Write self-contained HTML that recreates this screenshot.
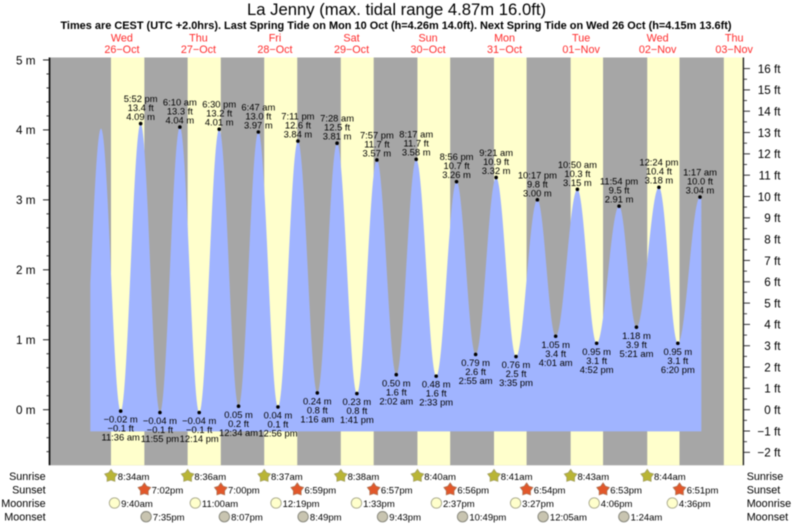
<!DOCTYPE html>
<html lang="en">
<head>
<meta charset="utf-8">
<title>La Jenny tide chart</title>
<style>
html,body{margin:0;padding:0;background:#fff;width:793px;height:525px;overflow:hidden}
svg{display:block;font-family:"Liberation Sans",sans-serif;filter:blur(0.4px)}
text{fill:#000}
</style>
</head>
<body>
<svg id="chart" xmlns="http://www.w3.org/2000/svg" width="793" height="525" viewBox="0 0 793 525">
  <rect x="0" y="0" width="793" height="525" fill="#fff"/>
  <text x="396.5" y="14.8" font-size="16.67" text-anchor="middle">La Jenny (max. tidal range 4.87m 16.0ft)</text>
  <text x="396" y="29" font-size="10.94" font-weight="bold" text-anchor="middle">Times are CEST (UTC +2.0hrs). Last Spring Tide on Mon 10 Oct (h=4.26m 14.0ft). Next Spring Tide on Wed 26 Oct (h=4.15m 13.6ft)</text>
  <g id="bands"></g>
  <path id="tide" fill="#a0b4ff"></path>
  <g id="axes"></g>
  <g id="dayLabels"></g>
  <g id="tideLabels"></g>
  <g id="almanac"></g>
</svg>
<script>
// ---- data ----
const dayNames = ["Wed","Thu","Fri","Sat","Sun","Mon","Tue","Wed","Thu"];
const dayDates = ["26\u2212Oct","27\u2212Oct","28\u2212Oct","29\u2212Oct","30\u2212Oct","31\u2212Oct","01\u2212Nov","02\u2212Nov","03\u2212Nov"];

const tideDays = [0,0,0,1,1,1,2,2,2,2,3,3,3,3,4,4,4,4,5,5,5,5,6,6,6,6,7,7,7,8];
const tideClocks = ["11:36 am","5:52 pm","11:55 pm","6:10 am","12:14 pm","6:30 pm","12:34 am","6:47 am","12:56 pm","7:11 pm","1:16 am","7:28 am","1:41 pm","7:57 pm","2:02 am","8:17 am","2:33 pm","8:56 pm","2:55 am","9:21 am","3:35 pm","10:17 pm","4:01 am","10:50 am","4:52 pm","11:54 pm","5:21 am","12:24 pm","6:20 pm","1:17 am"];
const tideMeters = [-0.02,4.09,-0.04,4.04,-0.04,4.01,0.05,3.97,0.04,3.84,0.24,3.81,0.23,3.57,0.50,3.58,0.48,3.26,0.79,3.32,0.76,3.00,1.05,3.15,0.95,2.91,1.18,3.18,0.95,3.04];
const tideFeet = [-0.1,13.4,-0.1,13.3,-0.1,13.2,0.2,13.0,0.1,12.6,0.8,12.5,0.8,11.7,1.6,11.7,1.6,10.7,2.6,10.9,2.5,9.8,3.4,10.3,3.1,9.5,3.9,10.4,3.1,10.0];

// unlabelled turning points that shape the curve at its two ends
const leadDays = [-1,0];
const leadClocks = ["11:09 pm","5:26 am"];
const leadMeters = [0.0,4.02];
const tailDays = [8];
const tailClocks = ["7:30 am"];
const tailMeters = [1.0];
const curveStartDay = 0;
const curveStartClock = "1:59 am";
const curveEndDay = 8;
const curveEndClock = "1:47 am";
const floorMeters = -0.31;

const sunriseClocks = ["8:34am","8:36am","8:37am","8:38am","8:40am","8:41am","8:43am","8:44am","8:45am"];
const sunsetClocks = ["7:02pm","7:00pm","6:59pm","6:57pm","6:56pm","6:54pm","6:53pm","6:51pm"];
const moonriseClocks = ["9:40am","11:00am","12:19pm","1:33pm","2:37pm","3:27pm","4:06pm","4:36pm"];
const moonriseDays = [0,1,2,3,4,5,6,7];
const moonsetClocks = ["7:35pm","8:07pm","8:49pm","9:43pm","10:49pm","12:05am","1:24am"];
const moonsetDays = [0,1,2,3,4,6,7];

const meterTicks = [0,1,2,3,4,5];
const meterMinorTicks = [-0.6,-0.4,-0.2,0.2,0.4,0.6,0.8,1.2,1.4,1.6,1.8,2.2,2.4,2.6,2.8,3.2,3.4,3.6,3.8,4.2,4.4,4.6,4.8];
const feetTicks = [-2,-1,0,1,2,3,4,5,6,7,8,9,10,11,12,13,14,15,16];

// ---- axis functions ----
const plotLeft = 50, plotRight = 743, plotTop = 57.5, plotBottom = 465.3;
const dayOrigin = 83.67, dayWidth = 76.53, zeroY = 409.7, pxPerMeter = 69.95;
const svgNS = "http://www.w3.org/2000/svg";
function clockHours(c){
  const m = c.match(/(\d+):(\d+)\s*(am|pm)/);
  return (parseInt(m[1],10) % 12) + parseInt(m[2],10)/60 + (m[3]==="pm" ? 12 : 0);
}
function xAt(day, clock){ return dayOrigin + dayWidth*(day + clockHours(clock)/24); }
function yAt(meters){ return zeroY - pxPerMeter*meters; }
function yFeet(feet){ return yAt(feet*0.3048); }
function make(parent, tag, attrs, content){
  const el = document.createElementNS(svgNS, tag);
  for (const k in attrs) el.setAttribute(k, attrs[k]);
  if (content !== undefined) el.textContent = content;
  parent.appendChild(el);
  return el;
}
function minusText(v, digits){ return (v<0 ? "\u2212" : "") + Math.abs(v).toFixed(digits); }

// ---- day / night bands ----
const bands = document.getElementById("bands");
const nightRect = make(bands,"rect",{x:plotLeft,y:plotTop,width:plotRight-plotLeft,height:plotBottom-plotTop,fill:"#a6a6a6"});


sunriseClocks.forEach(function(rise,i){
  const x0 = xAt(i,rise);
  const x1 = i < sunsetClocks.length ? xAt(i,sunsetClocks[i]) : plotRight;
  const band = make(bands,"rect",{x:x0,y:plotTop,width:x1-x0,height:plotBottom-plotTop,fill:"#ffffcc"});
  
  
});

// ---- tide curve ----
const curveDays = leadDays.concat(tideDays, tailDays);
const curveClocks = leadClocks.concat(tideClocks, tailClocks);
const curveMeters = leadMeters.concat(tideMeters, tailMeters);
const startX = xAt(curveStartDay,curveStartClock), endX = xAt(curveEndDay,curveEndClock);
let pts = [];
for (let i=0;i<curveDays.length-1;i++){
  const xa = xAt(curveDays[i],curveClocks[i]), xb = xAt(curveDays[i+1],curveClocks[i+1]);
  const ma = curveMeters[i], mb = curveMeters[i+1];
  for (let s=0;s<=30;s++){
    const f = s/30, x = xa+(xb-xa)*f;
    if (x<startX || x>endX) continue;
    pts.push([x, yAt(ma+(mb-ma)*(1-Math.cos(Math.PI*f))/2)]);
  }
}
const floorY = yAt(floorMeters);
document.getElementById("tide").setAttribute("d",
  "M"+pts[0][0].toFixed(2)+" "+floorY.toFixed(2)+" "+
  pts.map(function(p){return "L"+p[0].toFixed(2)+" "+p[1].toFixed(2);}).join(" ")+
  " L"+pts[pts.length-1][0].toFixed(2)+" "+floorY.toFixed(2)+"Z");

// ---- axes ----
const axes = document.getElementById("axes");
const leftLine = make(axes,"line",{x1:49.5,x2:49.5,y1:plotTop,y2:plotBottom,stroke:"#000","stroke-width":1.6});


const rightLine = make(axes,"line",{x1:743.4,x2:743.4,y1:plotTop,y2:plotBottom,stroke:"#222","stroke-width":1.4});


meterTicks.forEach(function(v){
  const y = yAt(v);
  const tick = make(axes,"line",{x1:43,x2:49,y1:y,y2:y,stroke:"#222","stroke-width":1});
  
  
  const lab = make(axes,"text",{x:35.5,y:y+4.3,"font-size":11.7,"text-anchor":"end"},v+" m");
  
  
});
meterMinorTicks.forEach(function(v){
  const y = yAt(v);
  const tick = make(axes,"line",{x1:46.5,x2:49,y1:y,y2:y,stroke:"#333","stroke-width":1});
  
  
});
feetTicks.forEach(function(v){
  const y = yFeet(v);
  const tick = make(axes,"line",{x1:744,x2:750,y1:y,y2:y,stroke:"#333","stroke-width":1});
  
  
  const lab = make(axes,"text",{x:780.5,y:y+4.3,"font-size":11.7,"text-anchor":"end"},minusText(v,0)+" ft");
  
  
  if (v<16){
    const ym = yFeet(v+0.5);
    const minor = make(axes,"line",{x1:744,x2:747,y1:ym,y2:ym,stroke:"#444","stroke-width":1});
    
    
  }
});

// ---- day labels ----
const dayLabels = document.getElementById("dayLabels");
dayNames.forEach(function(name,i){
  const x = dayOrigin + dayWidth*(i+0.5);
  const a = make(dayLabels,"text",{x:x,y:41.5,"font-size":10.8,"text-anchor":"middle",style:"fill:#ff2a2a"},name);
  
  
  const b = make(dayLabels,"text",{x:x,y:53.2,"font-size":10.8,"text-anchor":"middle",style:"fill:#ff2a2a"},dayDates[i]);
  
  
});

// ---- tide markers and labels ----
const tideLabels = document.getElementById("tideLabels");
tideDays.forEach(function(day,i){
  const x = xAt(day,tideClocks[i]), y = yAt(tideMeters[i]);
  const neighbour = i>0 ? tideMeters[i-1] : tideMeters[i+1];
  const high = tideMeters[i] > neighbour;
  const dot = make(tideLabels,"circle",{cx:x,cy:y,r:1.8,fill:"#000"});
  
  
  const mText = minusText(tideMeters[i],2)+" m", fText = minusText(tideFeet[i],1)+" ft", tText = tideClocks[i];
  const lines = high ? [[tText,-21.6],[fText,-12.6],[mText,-3.6]] : [[mText,11.6],[fText,20.6],[tText,29.6]];
  lines.forEach(function(l){
    const t = make(tideLabels,"text",{x:x,y:y+l[1],"font-size":9.4,"text-anchor":"middle"},l[0]);
    
    
  });
});

// ---- almanac rows ----
const almanac = document.getElementById("almanac");
const rowNames = ["Sunrise","Sunset","Moonrise","Moonset"];
const rowY = [476,489.5,503,516.7];
rowNames.forEach(function(name,i){
  const l = make(almanac,"text",{x:45.7,y:rowY[i]+3.8,"font-size":10.8,"text-anchor":"end"},name);
  
  
  const r = make(almanac,"text",{x:746.7,y:rowY[i]+3.8,"font-size":10.8},name);
  
  
});
function starPoints(cx,cy,R,r){
  const out = [];
  for (let k=0;k<10;k++){
    const a = -Math.PI/2 + k*Math.PI/5, rad = k%2 ? r : R;
    out.push((cx+rad*Math.cos(a)).toFixed(2)+","+(cy+rad*Math.sin(a)).toFixed(2));
  }
  return out.join(" ");
}
function clockText(x,y,s){
  const t = make(almanac,"text",{x:x,y:y+3.8,"font-size":9.5},s);
  
  
}
sunriseClocks.slice(0,8).forEach(function(c,i){
  const x = xAt(i,c);
  const s = make(almanac,"polygon",{points:starPoints(x,rowY[0],6.6,4),fill:"#b9b535",stroke:"#a3a060","stroke-width":0.8});
  
  
  clockText(x+6.8,rowY[0],c);
});
sunsetClocks.forEach(function(c,i){
  const x = xAt(i,c);
  const s = make(almanac,"polygon",{points:starPoints(x,rowY[1],6.6,4),fill:"#e2572a",stroke:"#b07050","stroke-width":0.8});
  
  
  clockText(x+7.2,rowY[1],c);
});
moonriseClocks.forEach(function(c,i){
  const x = xAt(moonriseDays[i],c);
  const s = make(almanac,"circle",{cx:x,cy:rowY[2],r:5.2,fill:"#ffffcc",stroke:"#a8a88c","stroke-width":0.9});
  
  
  clockText(x+6.6,rowY[2],c);
});
moonsetClocks.forEach(function(c,i){
  const x = xAt(moonsetDays[i],c);
  const s = make(almanac,"circle",{cx:x,cy:rowY[3],r:5.2,fill:"#c8c4b0",stroke:"#85857a","stroke-width":0.9});
  
  
  clockText(x+6.8,rowY[3],c);
});
</script>
</body>
</html>
